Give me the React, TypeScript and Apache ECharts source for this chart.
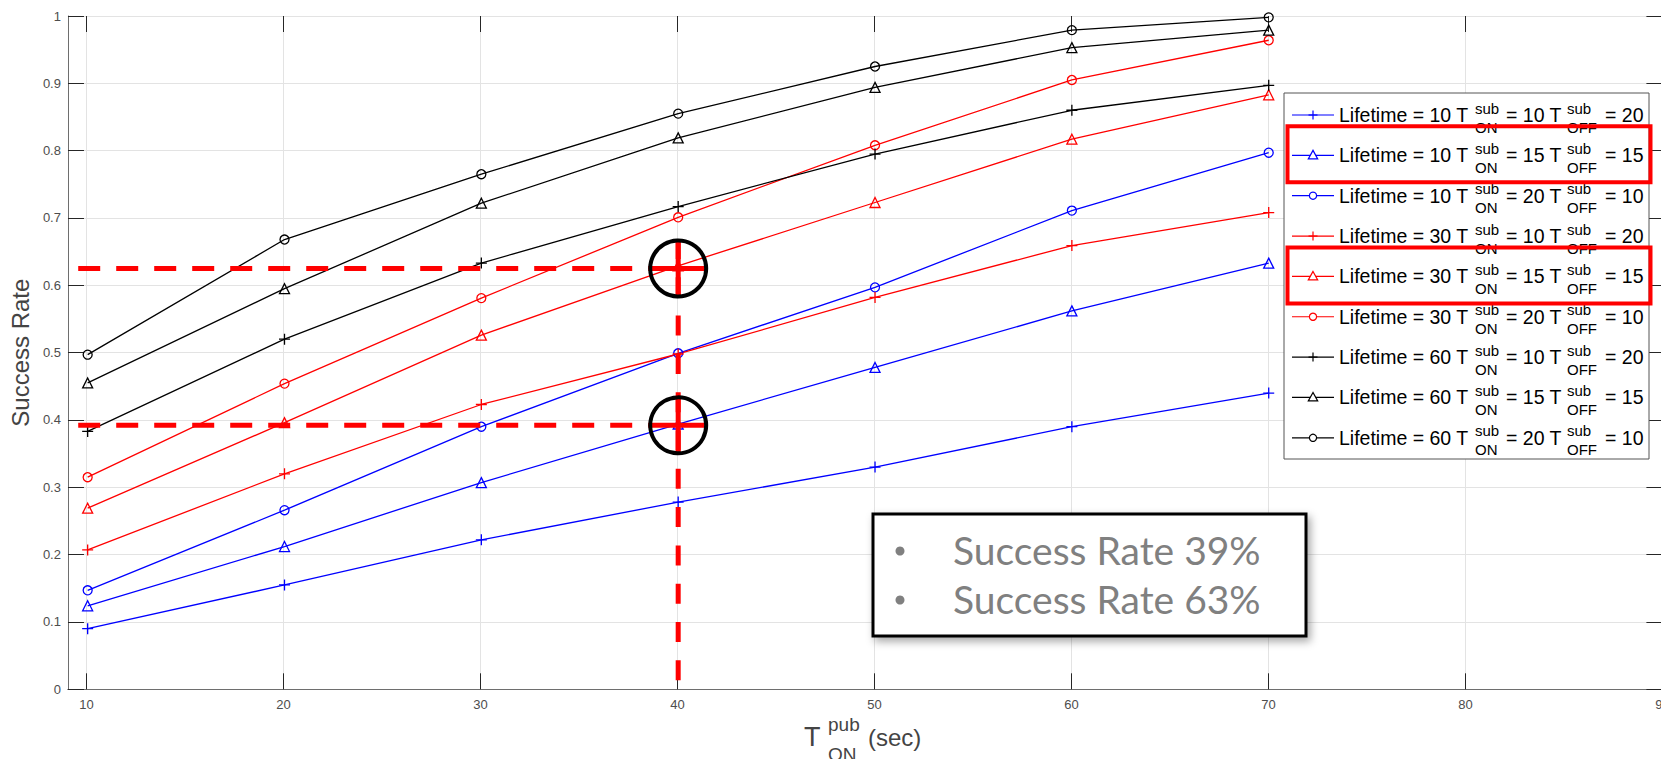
import React, { useEffect, useRef } from "react";
import * as echarts from "echarts";

// ---------- data ----------
const xValues = [10, 20, 30, 40, 50, 60, 70];

const lifetimes = [10, 10, 10, 30, 30, 30, 60, 60, 60];
const tOnSub = [10, 15, 20, 10, 15, 20, 10, 15, 20];
const tOffSub = [20, 15, 10, 20, 15, 10, 20, 15, 10];
const lineColors = ["#0000ff", "#0000ff", "#0000ff", "#ff0000", "#ff0000", "#ff0000", "#000000", "#000000", "#000000"];
const markerTypes = ["plus", "triangle", "circle", "plus", "triangle", "circle", "plus", "triangle", "circle"];

const life10On10 = [0.09, 0.155, 0.222, 0.278, 0.33, 0.39, 0.44];
const life10On15 = [0.124, 0.212, 0.307, 0.394, 0.478, 0.562, 0.633];
const life10On20 = [0.147, 0.266, 0.39, 0.499, 0.597, 0.711, 0.797];
const life30On10 = [0.207, 0.32, 0.423, 0.498, 0.582, 0.659, 0.708];
const life30On15 = [0.269, 0.396, 0.526, 0.629, 0.723, 0.817, 0.883];
const life30On20 = [0.315, 0.454, 0.581, 0.701, 0.808, 0.905, 0.964];
const life60On10 = [0.383, 0.52, 0.633, 0.717, 0.795, 0.86, 0.897];
const life60On15 = [0.455, 0.595, 0.722, 0.819, 0.894, 0.953, 0.979];
const life60On20 = [0.497, 0.668, 0.765, 0.855, 0.925, 0.979, 0.998];

const seriesValues = [
  life10On10, life10On15, life10On20,
  life30On10, life30On15, life30On20,
  life60On10, life60On15, life60On20,
];

const highlightX = 40;
const highlightY = [0.625, 0.392];
const highlightRows = [1, 4];
const annotationLines = ["Success Rate 39%", "Success Rate 63%"];

// ---------- component ----------
export default function App() {
  const ref = useRef<HTMLDivElement>(null);

  useEffect(() => {
    if (!ref.current) return;
    const chart = echarts.init(ref.current, null, { renderer: "svg" });
    const font = "'Liberation Sans', Arial, Helvetica, sans-serif";
    const axisGray = "#6e6e6e";
    const tickColor = "#262626";
    const labelColor = "#4d4d4d";
    const gridColor = "#e3e3e3";

    const symbolFor = (m: string) => (m === "plus" ? "path://M5,0L5,10M0,5L10,5" : m);
    const sizeFor = (m: string) => (m === "plus" ? 11 : m === "triangle" ? 10 : 9);

    const series = seriesValues.map((vals, i) => ({
      type: "line",
      name: `Lifetime = ${lifetimes[i]} T_ON = ${tOnSub[i]} T_OFF = ${tOffSub[i]}`,
      xAxisIndex: 0,
      yAxisIndex: 0,
      data: xValues.map((x, j) => [x, vals[j]]),
      symbol: symbolFor(markerTypes[i]),
      symbolSize: sizeFor(markerTypes[i]),
      symbolKeepAspect: true,
      showAllSymbol: true,
      lineStyle: { color: lineColors[i], width: 1.3 },
      itemStyle: { color: "rgba(0,0,0,0)", borderColor: lineColors[i], borderWidth: 1.3 },
      emphasis: { disabled: true },
      silent: true,
      z: 3,
    }));

    const gridTop = 16;
    const gridBottom = 69.7;
    const gridRight = 37.6;

    const option: any = {
      animation: false,
      backgroundColor: "#ffffff",
      grid: [
        { left: 66.7, right: gridRight, top: gridTop, bottom: gridBottom, show: false },
        { left: 86.4, right: gridRight, top: gridTop, bottom: gridBottom, show: false },
      ],
      xAxis: [
        {
          type: "value", gridIndex: 0, min: 9, max: 90, position: "bottom",
          axisLine: { show: true, lineStyle: { color: axisGray, width: 1 } },
          axisTick: { show: false }, axisLabel: { show: false }, splitLine: { show: false },
        },
        {
          type: "value", gridIndex: 0, min: 9, max: 90, position: "top",
          axisLine: { show: true, lineStyle: { color: axisGray, width: 1 } },
          axisTick: { show: false }, axisLabel: { show: false }, splitLine: { show: false },
        },
        {
          type: "value", gridIndex: 1, min: 10, max: 90, interval: 10, position: "bottom",
          axisLine: { show: false },
          axisTick: { show: true, inside: true, length: 16, lineStyle: { color: tickColor, width: 1 } },
          axisLabel: { show: true, color: labelColor, fontSize: 13, fontFamily: font, margin: 9 },
          splitLine: { show: true, lineStyle: { color: gridColor, width: 1 } },
        },
        {
          type: "value", gridIndex: 1, min: 10, max: 90, interval: 10, position: "top",
          axisLine: { show: false },
          axisTick: { show: true, inside: true, length: 16, lineStyle: { color: tickColor, width: 1 } },
          axisLabel: { show: false }, splitLine: { show: false },
        },
      ],
      yAxis: [
        {
          type: "value", gridIndex: 0, min: 0, max: 1, interval: 0.1, position: "left",
          name: "Success Rate", nameLocation: "middle", nameGap: 32,
          nameTextStyle: { fontSize: 24, color: "#444444", fontFamily: font },
          axisLine: { show: true, lineStyle: { color: axisGray, width: 1 } },
          axisTick: { show: true, inside: true, length: 16, lineStyle: { color: tickColor, width: 1 } },
          axisLabel: {
            show: true, color: labelColor, fontSize: 13, fontFamily: font, margin: 7,
            formatter: (v: number) => String(Math.round(v * 10) / 10),
          },
          splitLine: { show: true, lineStyle: { color: gridColor, width: 1 } },
        },
        {
          type: "value", gridIndex: 0, min: 0, max: 1, interval: 0.1, position: "right",
          axisLine: { show: true, lineStyle: { color: axisGray, width: 1 } },
          axisTick: { show: true, inside: true, length: 16, lineStyle: { color: tickColor, width: 1 } },
          axisLabel: { show: false }, splitLine: { show: false },
        },
        { type: "value", gridIndex: 1, min: 0, max: 1, show: false },
      ],
      series,
    };

    chart.setOption(option);

    const px = (x: number, y: number) => chart.convertToPixel({ gridIndex: 0 }, [x, y]) as number[];
    const red = "#ff0000";
    const graphics: any[] = [];

    // ---- crosshair annotations ----
    const R = 28;
    {
      const [vx, vTop] = px(highlightX, Math.max(...highlightY));
      const [, vBot] = px(highlightX, 0.009);
      graphics.push({
        type: "line", z: 50, silent: true,
        shape: { x1: vx, y1: vTop - R - 1.5, x2: vx, y2: vBot },
        style: { stroke: red, lineWidth: 5, lineDash: [20, 18.3] },
      });
    }
    highlightY.forEach((yv) => {
      const [cx, cy] = px(highlightX, yv);
      const [sx] = px(9.52, yv);
      graphics.push({
        type: "line", z: 50, silent: true,
        shape: { x1: sx, y1: cy, x2: cx - R - 1, y2: cy },
        style: { stroke: red, lineWidth: 5, lineDash: [22, 16] },
      });
      graphics.push({
        type: "line", z: 51, silent: true,
        shape: { x1: cx - R - 1, y1: cy, x2: cx + R + 1, y2: cy },
        style: { stroke: red, lineWidth: 5 },
      });
      graphics.push({
        type: "line", z: 51, silent: true,
        shape: { x1: cx, y1: cy - R - 1, x2: cx, y2: cy + R + 1 },
        style: { stroke: red, lineWidth: 5 },
      });
      graphics.push({
        type: "circle", z: 52, silent: true,
        shape: { cx, cy, r: R },
        style: { fill: "none", stroke: "#000000", lineWidth: 4 },
      });
    });

    // ---- legend ----
    const legendLeft = 1284;
    const legendTop = 93;
    const legendW = 365;
    const legendH = 366;
    const rowY0 = 115;
    const rowStep = 40.35;
    graphics.push({
      type: "rect", z: 60, silent: true,
      shape: { x: legendLeft, y: legendTop, width: legendW, height: legendH },
      style: { fill: "#ffffff", stroke: "#555555", lineWidth: 1 },
    });
    const mainFont = { fontSize: 19.5, fontFamily: font, fill: "#000000" };
    const smallFont = { fontSize: 15, fontFamily: font, fill: "#000000" };
    lifetimes.forEach((lt, i) => {
      const ry = rowY0 + i * rowStep;
      const c = lineColors[i];
      const mx = 1313;
      graphics.push({
        type: "line", z: 61, silent: true,
        shape: { x1: 1292, y1: ry, x2: 1334, y2: ry },
        style: { stroke: c, lineWidth: 1.2 },
      });
      if (markerTypes[i] === "plus") {
        graphics.push({ type: "line", z: 62, silent: true, shape: { x1: mx - 4.5, y1: ry, x2: mx + 4.5, y2: ry }, style: { stroke: c, lineWidth: 1.2 } });
        graphics.push({ type: "line", z: 62, silent: true, shape: { x1: mx, y1: ry - 4.5, x2: mx, y2: ry + 4.5 }, style: { stroke: c, lineWidth: 1.2 } });
      } else if (markerTypes[i] === "triangle") {
        graphics.push({
          type: "polygon", z: 62, silent: true,
          shape: { points: [[mx, ry - 5], [mx - 4.7, ry + 3.5], [mx + 4.7, ry + 3.5]] },
          style: { fill: "#ffffff", stroke: c, lineWidth: 1.2 },
        });
      } else {
        graphics.push({
          type: "circle", z: 62, silent: true,
          shape: { cx: mx, cy: ry, r: 3.6 },
          style: { fill: "#ffffff", stroke: c, lineWidth: 1.2 },
        });
      }
      const texts: [number, number, string, any][] = [
        [1339, ry, `Lifetime = ${lt} T`, mainFont],
        [1475, ry - 7, "sub", smallFont],
        [1475, ry + 12, "ON", smallFont],
        [1506, ry, `= ${tOnSub[i]} T`, mainFont],
        [1567, ry - 7, "sub", smallFont],
        [1567, ry + 12, "OFF", smallFont],
        [1605, ry, `= ${tOffSub[i]}`, mainFont],
      ];
      texts.forEach(([x, y, t, f]) => {
        graphics.push({
          type: "text", z: 63, silent: true, x, y,
          style: { text: t, ...f, align: "left", verticalAlign: "middle" },
        });
      });
    });
    highlightRows.forEach((r) => {
      const ry = rowY0 + r * rowStep;
      graphics.push({
        type: "rect", z: 64, silent: true,
        shape: { x: 1287.5, y: ry - 29, width: 363, height: 56 },
        style: { fill: "none", stroke: red, lineWidth: 4 },
      });
    });

    // ---- text box ----
    graphics.push({
      type: "rect", z: 70, silent: true,
      shape: { x: 873, y: 514, width: 433, height: 122 },
      style: {
        fill: "#ffffff", stroke: "#000000", lineWidth: 3,
        shadowBlur: 8, shadowOffsetX: 3, shadowOffsetY: 4, shadowColor: "rgba(0,0,0,0.35)",
      },
    });
    annotationLines.forEach((t, i) => {
      const y = 550 + i * 49;
      graphics.push({
        type: "circle", z: 71, silent: true,
        shape: { cx: 900, cy: y + 1, r: 4.5 },
        style: { fill: "#808080" },
      });
      graphics.push({
        type: "text", z: 71, silent: true, x: 953, y,
        style: { text: t, fontSize: 39, fontFamily: "Lato, 'Open Sans', sans-serif", fill: "#808080", align: "left", verticalAlign: "middle" },
      });
    });

    // ---- x axis title ----
    const titleColor = "#444444";
    graphics.push({ type: "text", z: 40, silent: true, x: 804, y: 737, style: { text: "T", fontSize: 27, fontFamily: font, fill: titleColor, align: "left", verticalAlign: "middle" } });
    graphics.push({ type: "text", z: 40, silent: true, x: 828, y: 724, style: { text: "pub", fontSize: 19, fontFamily: font, fill: titleColor, align: "left", verticalAlign: "middle" } });
    graphics.push({ type: "text", z: 40, silent: true, x: 828, y: 754, style: { text: "ON", fontSize: 19, fontFamily: font, fill: titleColor, align: "left", verticalAlign: "middle" } });
    graphics.push({ type: "text", z: 40, silent: true, x: 868, y: 737, style: { text: "(sec)", fontSize: 24, fontFamily: font, fill: titleColor, align: "left", verticalAlign: "middle" } });

    chart.setOption({ graphic: { elements: graphics } });

    return () => {
      chart.dispose();
    };
  }, []);

  return (
    <div style={{ position: "fixed", left: 0, top: 0, width: 1661, height: 759, overflow: "hidden", background: "#ffffff" }}>
      <div ref={ref} style={{ width: 1700, height: 759 }} />
    </div>
  );
}
